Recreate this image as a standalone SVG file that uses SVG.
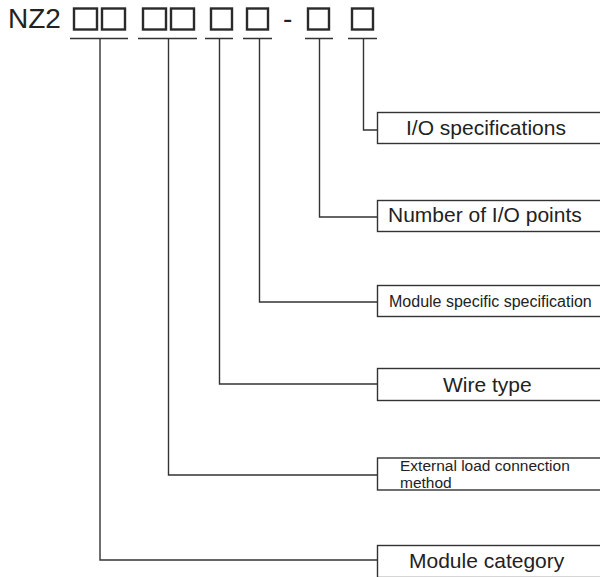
<svg xmlns="http://www.w3.org/2000/svg" width="600" height="577" viewBox="0 0 600 577">
<style>
.ln{fill:none;stroke:#333;stroke-width:1.4}
.sq{fill:none;stroke:#2a2a2a;stroke-width:2.4}
.box{fill:#fff;stroke:#333;stroke-width:1.4}
.t{font-family:"Liberation Sans",Arial,sans-serif;fill:#222}
.big{font-size:21px}
.sm{font-size:16px}
</style>
<rect width="600" height="577" fill="#fff"/>
<g id="code">
<text class="t" x="8" y="28" font-size="28">NZ2</text>
<rect class="sq" x="74" y="8.5" width="23" height="21"/>
<rect class="sq" x="102" y="8.5" width="23" height="21"/>
<rect class="sq" x="143" y="8.5" width="23" height="21"/>
<rect class="sq" x="171" y="8.5" width="23" height="21"/>
<rect class="sq" x="211" y="8.5" width="21" height="21"/>
<rect class="sq" x="247" y="8.5" width="21" height="21"/>
<text class="t" x="283" y="28" font-size="28">-</text>
<rect class="sq" x="308" y="8.5" width="21" height="21"/>
<rect class="sq" x="352" y="8.5" width="21" height="21"/>
<path class="ln" d="M70 38.5H128M138 38.5H197M205 38.5H233M243 38.5H272M305 38.5H333M348 38.5H377"/>
</g>
<g id="connectors">
<path class="ln" d="M363.5 38.5V130H377"/>
<path class="ln" d="M319.5 38.5V217H377"/>
<path class="ln" d="M259.5 38.5V302H377"/>
<path class="ln" d="M219.5 38.5V384H377"/>
<path class="ln" d="M168.5 38.5V475H377"/>
<path class="ln" d="M100 38.5V560H377"/>
</g>
<g id="n-io-spec">
<rect class="box" x="377.5" y="112.5" width="240" height="31"/>
<text class="t big" x="406" y="135">I/O specifications</text>
</g>
<g id="n-io-points">
<rect class="box" x="377.5" y="200.5" width="240" height="31"/>
<text class="t big" x="388" y="222">Number of I/O points</text>
</g>
<g id="n-module-spec">
<rect class="box" x="377.5" y="285.5" width="240" height="31"/>
<text class="t sm" x="389" y="307">Module specific specification</text>
</g>
<g id="n-wire">
<rect class="box" x="377.5" y="368.5" width="240" height="32"/>
<text class="t big" x="443" y="392">Wire type</text>
</g>
<g id="n-ext">
<rect class="box" x="377.5" y="458" width="240" height="32"/>
<text class="t" font-size="15.5" x="400" y="471">External load connection</text>
<text class="t" font-size="15.5" x="400" y="487.5">method</text>
</g>
<g id="n-category">
<rect class="box" x="377.5" y="545.5" width="240" height="32"/>
<text class="t big" x="409" y="568">Module category</text>
</g>
</svg>
